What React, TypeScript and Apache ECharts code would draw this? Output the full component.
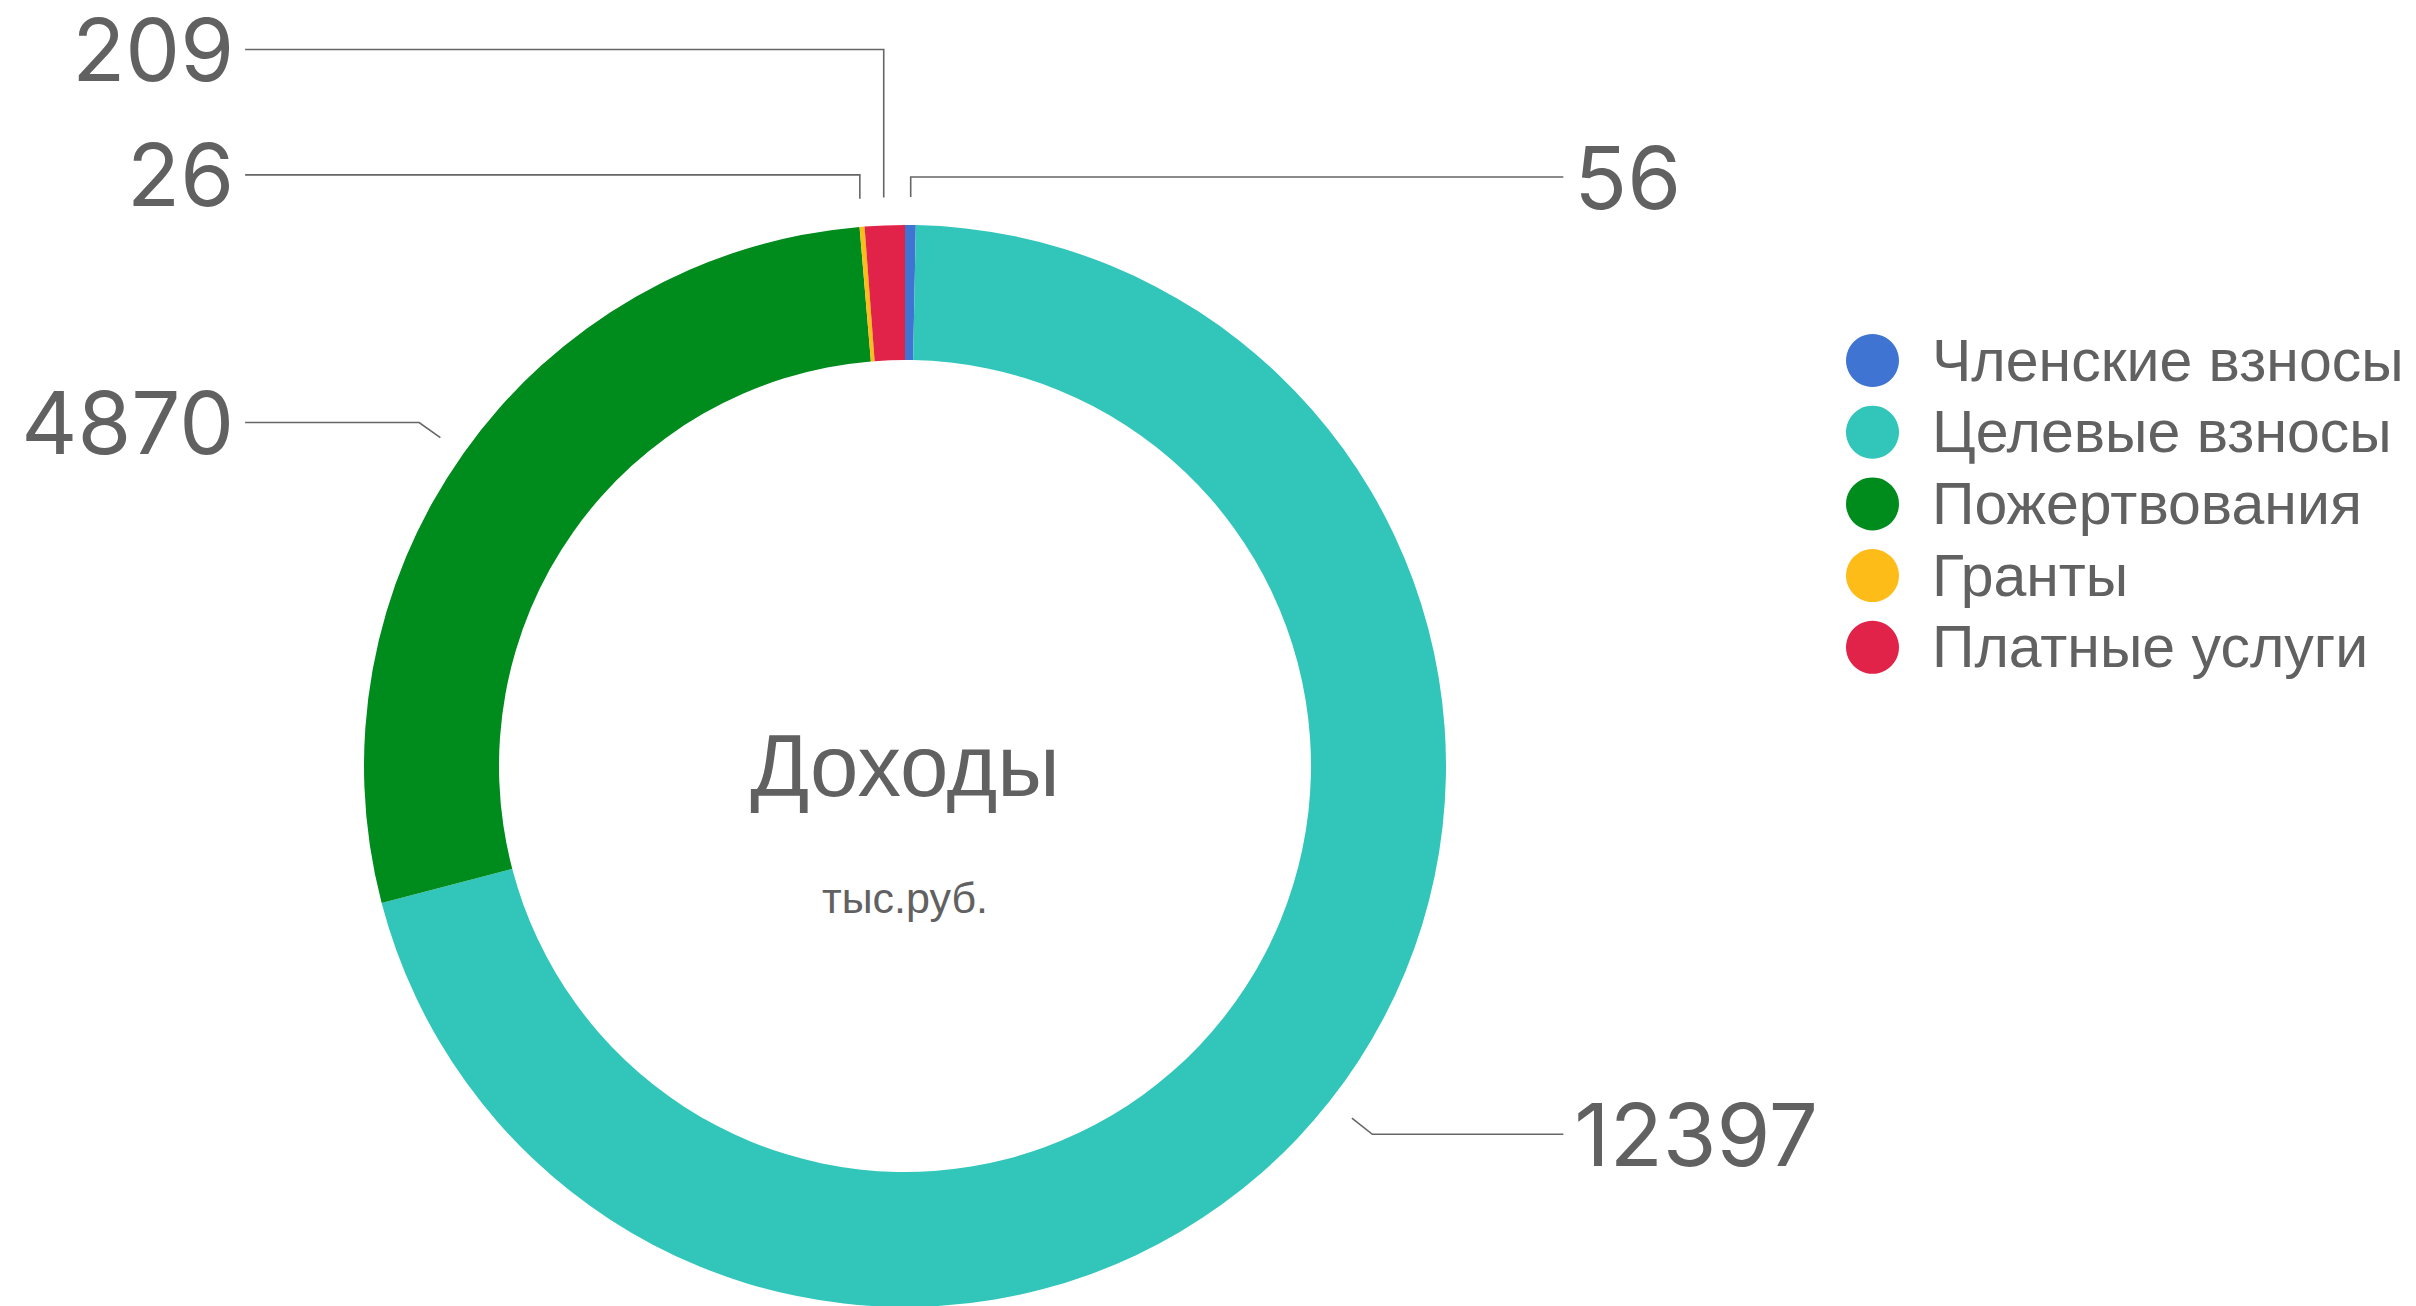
import React, { useEffect, useRef } from 'react';
import * as echarts from 'echarts';

const categories = ['Членские взносы', 'Целевые взносы', 'Пожертвования', 'Гранты', 'Платные услуги'];
const values = [56, 12397, 4870, 26, 209];
const colors = ['#3f74d2', '#32c6ba', '#008b1d', '#fdbc18', '#e1234a'];
const centerTitle = 'Доходы';
const centerSubtitle = 'тыс.руб.';

// label line styling per category (first and second segment lengths)
const lineLength1 = [20, 26, 26, 24, 148];
const lineLength2 = [20, 191, 174, 20, 20];

export default function App() {
  const ref = useRef<HTMLDivElement>(null);
  useEffect(() => {
    const chart = echarts.init(ref.current as HTMLDivElement, null, { renderer: 'svg' });
    const cx = 905;
    const cy = 766;
    const textColor = '#616161';
    chart.setOption({
      animation: false,
      color: colors,
      legend: {
        orient: 'vertical',
        left: 1841,
        top: 326,
        itemWidth: 53,
        itemHeight: 53,
        itemGap: 12.7,
        icon: 'circle',
        selectedMode: false,
        data: categories,
        textStyle: {
          fontFamily: 'Liberation Sans',
          fontSize: 59,
          color: textColor,
          lineHeight: 53,
          padding: [0, 0, 0, 28],
        },
      },
      graphic: [
        {
          type: 'text',
          x: cx,
          y: 765,
          silent: true,
          style: {
            text: centerTitle,
            fontFamily: 'Liberation Sans',
            fontSize: 87,
            fill: textColor,
            align: 'center',
            verticalAlign: 'middle',
          },
        },
        {
          type: 'text',
          x: cx,
          y: 898,
          silent: true,
          style: {
            text: centerSubtitle,
            fontFamily: 'Liberation Sans',
            fontSize: 43,
            fill: textColor,
            align: 'center',
            verticalAlign: 'middle',
          },
        },
      ],
      series: [
        {
          type: 'pie',
          radius: [406, 541],
          center: [cx, cy],
          startAngle: 90,
          clockwise: true,
          silent: true,
          label: { show: false },
          labelLine: { show: false },
          data: categories.map((n, i) => ({ name: n, value: values[i] })),
        },
        {
          type: 'pie',
          radius: [562, 569],
          center: [cx, cy],
          startAngle: 90,
          clockwise: true,
          silent: true,
          avoidLabelOverlap: true,
          itemStyle: { color: 'rgba(0,0,0,0)' },
          label: {
            show: true,
            position: 'outer',
            alignTo: 'labelLine',
            distanceToLabelLine: 11,
            formatter: '{c}',
            fontFamily: 'Inter',
            fontSize: 87,
            color: textColor,
            overflow: 'none',
            padding: [0, 0, 6, 0],
          },
          labelLine: {
            show: true,
            lineStyle: { color: '#666666', width: 1.6 },
          },
          // make near-vertical leader segments exactly vertical
          labelLayout: (params: any) => {
            const pts = params.labelLinePoints;
            if (!pts || pts.length < 3) return {};
            if (Math.abs(pts[1][0] - pts[0][0]) < 12 && Math.abs(pts[1][1] - pts[0][1]) > 10) {
              return {
                labelLinePoints: [
                  [pts[0][0], pts[0][1]],
                  [pts[0][0], pts[1][1]],
                  [pts[2][0], pts[2][1]],
                ],
              };
            }
            return {};
          },
          data: categories.map((n, i) => ({
            name: n,
            value: values[i],
            labelLine: { length: lineLength1[i], length2: lineLength2[i] },
          })),
        },
      ],
    });
    return () => chart.dispose();
  }, []);
  return (
    <div
      ref={ref}
      style={{ position: 'fixed', left: 0, top: 0, width: 2416, height: 1306, background: '#fff' }}
    />
  );
}
